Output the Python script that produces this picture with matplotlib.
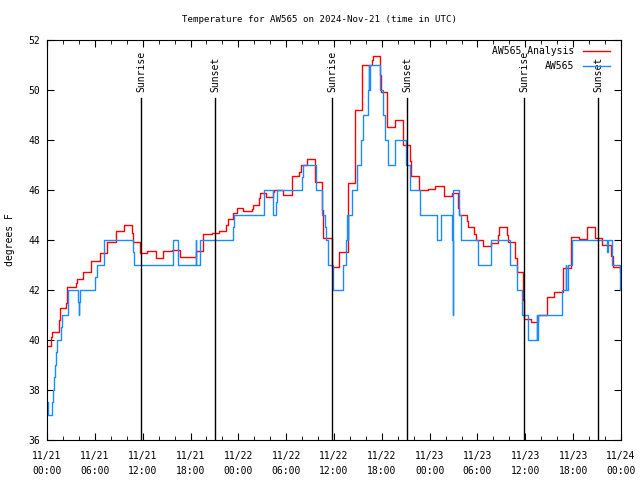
import numpy as np
import matplotlib
matplotlib.use('Agg')
import matplotlib.pyplot as plt

# hours since 2024-11-21 00:00 UTC
an_t = [0.0, 0.5, 0.65, 1.55, 1.65, 2.38, 2.5, 3.6, 3.72, 4.56, 5.52, 6.65, 7.48,
        8.62, 9.66, 10.62, 10.75, 11.67, 12.5, 13.63, 14.59, 15.64, 16.68, 18.65,
        19.6, 20.66, 21.6, 22.45, 22.66, 23.37, 23.83, 24.63, 25.67, 25.8, 26.55,
        26.72, 27.47, 28.3, 28.5, 29.64, 30.7, 31.6, 31.9, 32.65, 33.65, 34.46,
        34.66, 35.75, 36.63, 37.7, 38.63, 39.55, 40.8, 40.95, 41.75, 41.85, 42.6,
        43.65, 44.62, 45.55, 45.72, 46.62, 46.7, 47.75, 48.72, 49.8, 50.84, 51.6,
        51.72, 52.64, 52.85, 53.56, 53.81, 54.65, 55.65, 56.61, 56.74, 57.66,
        57.87, 58.7, 58.92, 59.67, 59.84, 60.67, 61.63, 62.68, 63.64, 64.69,
        64.77, 65.73, 66.73, 67.7, 68.74, 69.66, 70.71, 70.96, 71.88, 72.0]
an_v = [39.76, 40.13, 40.31, 40.8, 41.27, 41.47, 42.13, 42.27, 42.43, 42.71, 43.17,
        43.47, 43.91, 44.37, 44.6, 44.27, 43.91, 43.47, 43.56, 43.27, 43.56, 43.6,
        43.31, 43.57, 44.24, 44.27, 44.37, 44.6, 44.85, 45.09, 45.29, 45.16, 45.25,
        45.4, 45.67, 45.87, 45.73, 45.9, 46.0, 45.8, 46.57, 46.7, 47.0, 47.23,
        46.31, 45.2, 44.07, 42.9, 43.51, 46.27, 49.2, 51.0, 51.2, 51.35, 50.6,
        49.9, 48.53, 48.8, 47.8, 47.17, 46.56, 46.27, 46.0, 46.04, 46.16, 45.76,
        45.87, 45.3, 45.0, 44.75, 44.51, 44.25, 44.0, 43.76, 43.87, 44.2, 44.51,
        44.2, 43.91, 43.3, 42.71, 41.6, 40.83, 40.71, 41.0, 41.71, 41.91, 42.1,
        42.87, 44.13, 44.04, 44.51, 44.07, 43.79, 43.36, 42.91, 42.7, 42.7]

aw_t = [0.0, 0.08, 0.58, 0.71, 0.88, 1.0, 1.13, 1.25, 1.76, 1.84, 2.68, 3.93, 4.0,
        4.05, 4.1, 6.02, 6.23, 7.19, 10.83, 10.96, 15.76, 16.47, 18.65, 18.72,
        19.19, 23.3, 23.46, 27.27, 28.3, 28.7, 28.9, 31.95, 32.05, 33.8, 34.5,
        34.85, 34.95, 35.3, 35.9, 37.17, 37.47, 37.67, 37.75, 37.8, 38.3, 38.92,
        39.35, 39.64, 40.27, 40.35, 40.42, 40.5, 41.77, 42.1, 42.4, 42.77, 43.6,
        45.05, 45.55, 46.85, 48.88, 49.38, 50.84, 50.93, 50.97, 51.64, 51.93,
        54.1, 55.65, 58.08, 58.9, 59.54, 60.38, 61.42, 61.47, 61.63, 64.56, 65.06,
        65.15, 65.3, 65.9, 70.3, 70.4, 70.9, 71.87, 72.0]
aw_v = [37.5, 37.0, 37.5, 38.0, 38.5, 39.0, 39.5, 40.0, 40.5, 41.0, 42.0, 41.5, 41.0,
        41.5, 42.0, 42.5, 43.0, 44.0, 43.5, 43.0, 44.0, 43.0, 44.0, 43.0, 44.0,
        44.5, 45.0, 46.0, 45.0, 45.5, 46.0, 46.5, 47.0, 46.0, 45.0, 44.5, 44.0,
        43.0, 42.0, 43.0, 44.0, 45.0, 44.0, 45.0, 46.0, 47.0, 48.0, 49.0, 50.0,
        51.0, 50.0, 51.0, 50.0, 49.0, 48.0, 47.0, 48.0, 47.0, 46.0, 45.0, 44.0,
        45.0, 44.0, 41.0, 46.0, 45.0, 44.0, 43.0, 44.0, 43.0, 42.0, 41.0, 40.0,
        41.0, 40.0, 41.0, 42.0, 43.0, 42.0, 43.0, 44.0, 43.5, 44.0, 43.0, 42.0,
        42.0]

sunrise_h = [11.79, 35.75, 59.83]
sunset_h = [21.07, 45.16, 69.12]

tick_h = list(range(0, 73, 6))
tick_labels = ['11/21\n00:00', '11/21\n06:00', '11/21\n12:00', '11/21\n18:00',
               '11/22\n00:00', '11/22\n06:00', '11/22\n12:00', '11/22\n18:00',
               '11/23\n00:00', '11/23\n06:00', '11/23\n12:00', '11/23\n18:00',
               '11/24\n00:00']

plt.rcParams['font.family'] = ['DejaVu Sans Mono']
plt.rcParams['font.size'] = 7

fig = plt.figure(figsize=(6.4, 4.8), dpi=100)
ax = fig.add_axes([47/640, 40/480, 574/640, 400/480])

ax.step(an_t, an_v, where='post', color='#ff0000', lw=1.0, label='AW565 Analysis')
ax.step(aw_t, aw_v, where='post', color='#1a8cff', lw=1.0, label='AW565')

for h in sunrise_h:
    ax.plot([h, h], [36, 49.68], color='black', lw=1.0)
    ax.text(h, 49.9, 'Sunrise', rotation=90, ha='center', va='bottom')
for h in sunset_h:
    ax.plot([h, h], [36, 49.68], color='black', lw=1.0)
    ax.text(h, 49.9, 'Sunset', rotation=90, ha='center', va='bottom')

ax.set_xlim(0, 72)
ax.set_ylim(36, 52)
ax.set_xticks(tick_h)
ax.set_xticklabels(tick_labels, linespacing=1.55)
ax.set_xticks(range(0, 73, 2), minor=True)
ax.set_yticks(range(36, 53, 2))
ax.tick_params(which='both', direction='in', top=True, right=True)
ax.tick_params(which='major', length=5)
ax.tick_params(which='minor', length=3)
ax.tick_params(axis='x', pad=8)
ax.tick_params(axis='y', pad=5)

ax.legend(loc='upper right', bbox_to_anchor=((610-47)/574, 1-6/400),
          frameon=False, markerfirst=False, handlelength=2.8,
          handletextpad=0.9, labelspacing=0.55, borderpad=0, borderaxespad=0)

fig.text(0.5, 1-19/480, 'Temperature for AW565 on 2024-Nov-21 (time in UTC)',
         ha='center', va='center', fontsize=6.6)
fig.text(10/640, 0.5, 'degrees F', rotation=90, ha='center', va='center')

plt.savefig('out.png', dpi=100)
